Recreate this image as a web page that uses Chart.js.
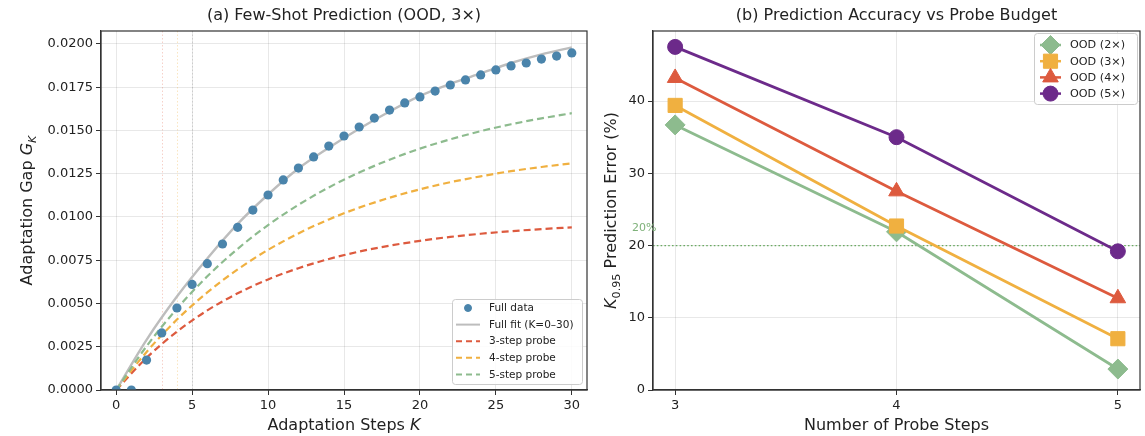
<!DOCTYPE html>
<html>
<head>
<meta charset="utf-8">
<script src="https://cdn.jsdelivr.net/npm/chart.js@4.4.1/dist/chart.umd.min.js"></script>
<style>
  html, body { margin: 0; padding: 0; background: #fff; }
  #wrap { position: relative; width: 1145px; height: 436px; }
  .pane { position: absolute; top: 0; height: 436px; }
  #paneA { left: 0; width: 592px; }
  #paneB { left: 592px; width: 553px; }
</style>
</head>
<body>
<div id="wrap">
  <div class="pane" id="paneA"><canvas id="chartA" width="592" height="436"></canvas></div>
  <div class="pane" id="paneB"><canvas id="chartB" width="553" height="436"></canvas></div>
</div>
<script>
// (a) few-shot prediction
var stepsK = [0, 1, 2, 3, 4, 5, 6, 7, 8, 9, 10, 11, 12, 13, 14, 15, 16, 17, 18, 19, 20, 21, 22, 23, 24, 25, 26, 27, 28, 29, 30];
var fullData = [0, 0, 0.00173, 0.0033, 0.00474, 0.0061, 0.0073, 0.00844, 0.0094, 0.0104, 0.01127,
  0.01214, 0.01283, 0.01347, 0.0141, 0.01468, 0.0152, 0.01572, 0.01618, 0.01659, 0.01694,
  0.01728, 0.01763, 0.01792, 0.01821, 0.0185, 0.01873, 0.0189, 0.01913, 0.0193, 0.01948];
var fitK = [0, 2, 4, 6, 8, 10, 12, 14, 16, 18, 20, 22, 24, 26, 28, 30];
var fullFit = [0, 0.0029, 0.0054, 0.0076, 0.0096, 0.0113, 0.0128, 0.0140, 0.0151, 0.0161, 0.0170, 0.0177, 0.0183, 0.0189, 0.0194, 0.0198];
var probe3 = [0, 0.00186, 0.00337, 0.0046, 0.00559, 0.00639, 0.00704, 0.00757, 0.008, 0.00834, 0.00862, 0.00885, 0.00903, 0.00918, 0.0093, 0.0094];
var probe4 = [0, 0.0022, 0.00407, 0.00564, 0.00697, 0.0081, 0.00905, 0.00986, 0.01054, 0.01111, 0.0116, 0.01201, 0.01235, 0.01265, 0.01289, 0.0131];
var probe5 = [0, 0.00253, 0.0047, 0.00657, 0.00816, 0.00953, 0.0107, 0.01171, 0.01257, 0.01331, 0.01395, 0.01449, 0.01496, 0.01536, 0.0157, 0.016];
var probeMarks = [3, 4, 5];
var gapTicks = [0, 0.0025, 0.005, 0.0075, 0.01, 0.0125, 0.015, 0.0175, 0.02];

// (b) prediction error vs probe steps
var probeSteps = [3, 4, 5];
var ood2 = [36.7, 21.9, 2.9];
var ood3 = [39.4, 22.7, 7.1];
var ood4 = [43.2, 27.5, 12.7];
var ood5 = [47.5, 35.0, 19.2];
var oodLabels = ['OOD (2×)', 'OOD (3×)', 'OOD (4×)', 'OOD (5×)'];
var refLevel = 20;

(function() {
  "use strict";

  var FONT = '"DejaVu Sans", sans-serif',
      TXT = '#222',
      GRID = 'rgba(0,0,0,0.09)',
      SPINE = '#333';

  var C = {
    blue: '#4a84ab', grey: '#bdbdbd', red: '#dd5a3e', orange: '#f0b040',
    green: '#8dbb8e', purple: '#6c2a8a', ref: '#6aaa62'
  };

  Chart.defaults.font.family = FONT;
  Chart.defaults.color = TXT;

  var pts = function(xs, ys) {
    return xs.map(function(x, i) { return { x: x, y: ys[i] }; });
  };

  // text with italic / subscript pieces
  var drawRich = function(ctx, parts, cx, cy, size, rot) {
    ctx.save();
    ctx.translate(cx, cy);
    if (rot) ctx.rotate(rot);
    ctx.textBaseline = 'middle';
    ctx.textAlign = 'left';
    ctx.fillStyle = TXT;
    var total = 0, fonts = [];
    parts.forEach(function(p) {
      var f = (p.italic ? 'italic ' : '') + (p.sub ? size * 0.7 : size) + 'px ' + FONT;
      ctx.font = f;
      fonts.push(f);
      total += ctx.measureText(p.t).width;
    });
    var x = -total / 2;
    parts.forEach(function(p, i) {
      ctx.font = fonts[i];
      ctx.fillText(p.t, x, p.sub ? size * 0.3 : 0);
      x += ctx.measureText(p.t).width;
    });
    ctx.restore();
  };

  var drawLegend = function(ctx, box, rows, fontSize) {
    ctx.save();
    ctx.fillStyle = 'rgba(255,255,255,0.85)';
    ctx.strokeStyle = '#cccccc';
    ctx.lineWidth = 1;
    ctx.beginPath();
    ctx.roundRect(box.x + 0.5, box.y + 0.5, box.w, box.h, 3);
    ctx.fill();
    ctx.stroke();
    ctx.font = fontSize + 'px ' + FONT;
    ctx.textBaseline = 'middle';
    rows.forEach(function(r, i) {
      var y = box.y + box.first + i * box.step,
          lx = box.x + box.pad;
      ctx.setLineDash(r.dash || []);
      if (r.line) {
        ctx.strokeStyle = r.color;
        ctx.lineWidth = r.width;
        ctx.beginPath();
        ctx.moveTo(lx, y);
        ctx.lineTo(lx + box.lineLen, y);
        ctx.stroke();
      }
      ctx.setLineDash([]);
      if (r.marker) {
        ctx.fillStyle = r.color;
        ctx.strokeStyle = r.color;
        ctx.lineWidth = 1;
        Chart.helpers.drawPoint(ctx, { pointStyle: r.marker, radius: r.radius, rotation: 0, borderWidth: 1 }, lx + box.lineLen / 2, y);
      }
      ctx.fillStyle = TXT;
      ctx.fillText(r.label, lx + box.lineLen + box.gap, y + 0.5);
    });
    ctx.restore();
  };

  var frame = function(ctx, a) {
    ctx.save();
    ctx.strokeStyle = SPINE;
    ctx.lineWidth = 1.2;
    ctx.strokeRect(a.left, a.top, a.right - a.left, a.bottom - a.top);
    ctx.restore();
  };

  var title = function(ctx, a, text) {
    ctx.save();
    ctx.font = '16px ' + FONT;
    ctx.fillStyle = TXT;
    ctx.textAlign = 'center';
    ctx.textBaseline = 'middle';
    ctx.fillText(text, (a.left + a.right) / 2, 16);
    ctx.restore();
  };

  var axisOpts = function(min, max, step, fmt, fixW, fixH) {
    return {
      type: 'linear', min: min, max: max,
      grid: { color: GRID, lineWidth: 1, drawTicks: true, tickLength: 5, tickColor: SPINE },
      border: { display: true, color: SPINE, width: 1.2 },
      ticks: { stepSize: step, includeBounds: false, padding: 3, color: TXT, font: { size: 13 }, maxRotation: 0, callback: fmt },
      afterFit: function(s) {
        if (fixW) { s.width = fixW; s.paddingTop = 0; s.paddingBottom = 0; }
        if (fixH) { s.height = fixH; s.paddingLeft = 0; s.paddingRight = 0; }
      }
    };
  };

  // ---- (a) ----
  var plugA = {
    id: 'decorA',
    beforeDatasetsDraw: function(chart) {
      var ctx = chart.ctx, a = chart.chartArea, xs = chart.scales.x;
      var cols = ['rgba(221,90,62,0.28)', 'rgba(240,176,64,0.32)', 'rgba(120,120,120,0.25)'];
      ctx.save();
      ctx.lineWidth = 1;
      ctx.setLineDash([1.5, 2]);
      probeMarks.forEach(function(k, i) {
        var px = Math.round(xs.getPixelForValue(k)) + 0.5;
        ctx.strokeStyle = cols[i];
        ctx.beginPath();
        ctx.moveTo(px, a.top);
        ctx.lineTo(px, a.bottom);
        ctx.stroke();
      });
      ctx.restore();
    },
    afterDraw: function(chart) {
      var ctx = chart.ctx, a = chart.chartArea;
      frame(ctx, a);
      title(ctx, a, '(a) Few-Shot Prediction (OOD, 3×)');
      drawRich(ctx, [{ t: 'Adaptation Steps ' }, { t: 'K', italic: true }], (a.left + a.right) / 2, 426, 16);
      drawRich(ctx, [{ t: 'Adaptation Gap ' }, { t: 'G', italic: true }, { t: 'K', italic: true, sub: true }], 28, (a.top + a.bottom) / 2, 16, -Math.PI / 2);
      drawLegend(ctx, { x: a.right - 135, y: a.bottom - 91, w: 130, h: 85, pad: 4, first: 9, step: 16.6, lineLen: 24, gap: 9 }, [
        { label: 'Full data', color: C.blue, marker: 'circle', radius: 3.5 },
        { label: 'Full fit (K=0–30)', color: C.grey, line: true, width: 2 },
        { label: '3-step probe', color: C.red, line: true, width: 2, dash: [6, 4] },
        { label: '4-step probe', color: C.orange, line: true, width: 2, dash: [6, 4] },
        { label: '5-step probe', color: C.green, line: true, width: 2, dash: [6, 4] }
      ], 10.5);
    }
  };

  var dashLine = function(label, xs, ys, color, order) {
    return {
      label: label, data: pts(xs, ys), borderColor: color, borderWidth: 2.2,
      borderDash: [7, 4], pointRadius: 0, fill: false, cubicInterpolationMode: 'monotone', order: order
    };
  };

  new Chart(document.getElementById('chartA'), {
    type: 'line',
    data: {
      datasets: [
        { label: 'Full data', data: pts(stepsK, fullData), showLine: false, pointRadius: 4.6,
          pointBackgroundColor: C.blue, pointBorderWidth: 0, borderColor: C.blue, order: 0 },
        { label: 'Full fit (K=0–30)', data: pts(fitK, fullFit), borderColor: C.grey, borderWidth: 2.4,
          pointRadius: 0, cubicInterpolationMode: 'monotone', order: 4 },
        dashLine('3-step probe', fitK, probe3, C.red, 3),
        dashLine('4-step probe', fitK, probe4, C.orange, 2),
        dashLine('5-step probe', fitK, probe5, C.green, 1)
      ]
    },
    options: {
      responsive: false, animation: false,
      layout: { autoPadding: false, padding: { left: 0, right: 5, top: 31, bottom: 0 } },
      plugins: { legend: { display: false }, tooltip: { enabled: false } },
      scales: {
        x: axisOpts(-1, 31, 5, function(v) { return v; }, null, 46),
        y: Object.assign(axisOpts(0, 0.02075, 0.0025, function(v) { return v.toFixed(4); }, 101, null),
          { afterBuildTicks: function(s) { s.ticks = gapTicks.map(function(v) { return { value: v }; }); } })
      }
    },
    plugins: [plugA]
  });

  // ---- (b) ----
  var plugB = {
    id: 'decorB',
    afterDraw: function(chart) {
      var ctx = chart.ctx, a = chart.chartArea, ys = chart.scales.y;
      frame(ctx, a);
      title(ctx, a, '(b) Prediction Accuracy vs Probe Budget');
      drawRich(ctx, [{ t: 'Number of Probe Steps' }], (a.left + a.right) / 2, 426, 16);
      drawRich(ctx, [{ t: 'K', italic: true }, { t: '0.95', sub: true }, { t: ' Prediction Error (%)' }], 20, (a.top + a.bottom) / 2, 16, -Math.PI / 2);
      ctx.save();
      ctx.font = '11px ' + FONT;
      ctx.fillStyle = '#7fb27a';
      ctx.textAlign = 'left';
      ctx.textBaseline = 'middle';
      ctx.fillText('20%', 40, ys.getPixelForValue(refLevel) - 17);
      ctx.restore();
      drawLegend(ctx, { x: a.right - 106, y: a.top + 2, w: 103, h: 71, pad: 6, first: 12, step: 16.2, lineLen: 21, gap: 9 }, [
        { label: oodLabels[0], color: C.green, line: true, width: 2.5, marker: 'rectRot', radius: 9.5 },
        { label: oodLabels[1], color: C.orange, line: true, width: 2.5, marker: 'rect', radius: 10 },
        { label: oodLabels[2], color: C.red, line: true, width: 2.5, marker: 'triangle', radius: 9 },
        { label: oodLabels[3], color: C.purple, line: true, width: 2.5, marker: 'circle', radius: 7.5 }
      ], 11.2);
    }
  };

  var series = function(label, ys, color, style, r, order) {
    return {
      label: label, data: pts(probeSteps, ys), borderColor: color, backgroundColor: color, borderWidth: 2.8,
      pointStyle: style, pointRadius: r, pointBackgroundColor: color, pointBorderColor: color, pointBorderWidth: 1, order: order
    };
  };

  new Chart(document.getElementById('chartB'), {
    type: 'line',
    data: {
      datasets: [
        series(oodLabels[0], ood2, C.green, 'rectRot', 10, 3),
        series(oodLabels[1], ood3, C.orange, 'rect', 10, 2),
        series(oodLabels[2], ood4, C.red, 'triangle', 9, 1),
        series(oodLabels[3], ood5, C.purple, 'circle', 7.5, 0),
        { label: 'ref', data: [{ x: 2.9, y: refLevel }, { x: 5.1, y: refLevel }], borderColor: C.ref,
          borderWidth: 1.3, borderDash: [1.6, 2.2], pointRadius: 0, order: 5 }
      ]
    },
    options: {
      responsive: false, animation: false,
      layout: { autoPadding: false, padding: { left: 0, right: 5, top: 31, bottom: 0 } },
      plugins: { legend: { display: false }, tooltip: { enabled: false } },
      scales: {
        x: axisOpts(2.9, 5.1, 1, function(v) { return v; }, null, 46),
        y: axisOpts(0, 49.7, 10, function(v) { return v; }, 61, null)
      }
    },
    plugins: [plugB]
  });

})();
</script>
</body>
</html>
